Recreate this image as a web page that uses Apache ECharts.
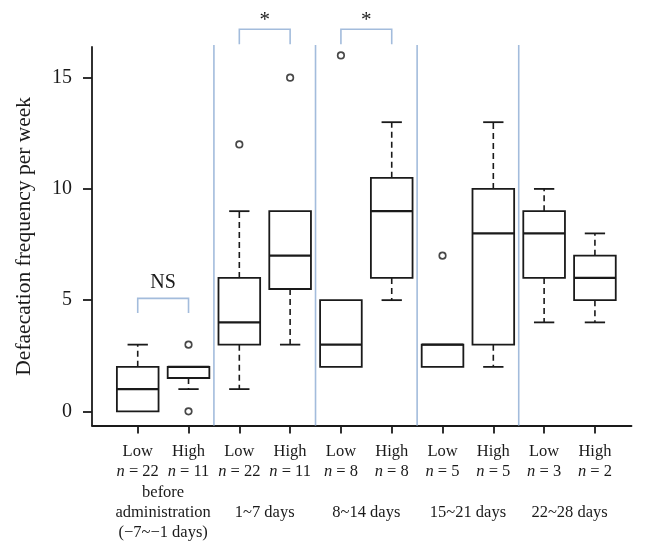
<!DOCTYPE html>
<html>
<head>
<meta charset="utf-8">
<script src="https://cdn.jsdelivr.net/npm/echarts@6/dist/echarts.min.js"></script>
<style>html,body{margin:0;padding:0;background:#fff}#c{width:646px;height:555px}</style>
</head>
<body>
<div id="c"></div>
<script>
// ---- data ----
const categories = ['Low', 'High', 'Low', 'High', 'Low', 'High', 'Low', 'High', 'Low', 'High'];
const sampleSizes = [22, 11, 22, 11, 8, 8, 5, 5, 3, 2];
const groupLabels = ['before\nadministration\n(\u22127~\u22121 days)', '1~7 days', '8~14 days', '15~21 days', '22~28 days'];
// [min whisker, Q1, median, Q3, max whisker]
const boxStats = [
  [0, 0, 1, 2, 3],
  [1, 1.5, 2, 2, 2],
  [1, 3, 4, 6, 9],
  [3, 5.5, 7, 9, 9],
  [2, 2, 3, 5, 5],
  [5, 6, 9, 10.5, 13],
  [2, 2, 3, 3, 3],
  [2, 3, 8, 10, 13],
  [4, 6, 8, 9, 10],
  [4, 5, 6, 7, 8]
];
// outliers: [category position (1-based), value]
const outliers = [[2, 0], [2, 3], [3, 12], [4, 15], [5, 16], [7, 7]];
const separators = [2.5, 4.5, 6.5, 8.5];
// significance brackets: [from, to, bottom, top, labelY, label]
const brackets = [
  [1, 2, 4.42, 5.08, 5.78, 'NS'],
  [3, 4, 16.5, 17.18, 17.55, '*'],
  [5, 6, 16.5, 17.18, 17.55, '*']
];
const yTicks = [0, 5, 10, 15];
const xTicks = [1, 2, 3, 4, 5, 6, 7, 8, 9, 10];
const groupTicks = [1.5, 3.5, 5.5, 7.5, 9.5];

const X_MIN = 0.1, X_MAX = 10.72, Y_MIN = -0.64, Y_MAX = 16.38;
const FONT = '"Liberation Serif", "DejaVu Serif", serif';
const INK = '#1a1a1a';
const BLUE = '#a3bcdc';

const chart = echarts.init(document.getElementById('c'), null, {renderer: 'canvas'});

const boxData = boxStats.map((s, i) => [i + 1].concat(s));

function renderBox(params, api) {
  const x = api.value(0);
  const mn = api.value(1), q1 = api.value(2), md = api.value(3), q3 = api.value(4), mx = api.value(5);
  const half = api.size([0.41, 0])[0];
  const cap = api.size([0.2, 0])[0];
  const c = api.coord([x, md]);
  const pQ1 = api.coord([x, q1]), pQ3 = api.coord([x, q3]);
  const pMin = api.coord([x, mn]), pMax = api.coord([x, mx]);
  const cx = c[0];
  const children = [];
  const lineStyle = {stroke: INK, lineWidth: 1.8, fill: null};
  const dashStyle = {stroke: INK, lineWidth: 1.6, lineDash: [6, 4], fill: null};
  if (mx > q3) {
    children.push({type: 'line', shape: {x1: cx, y1: pQ3[1], x2: cx, y2: pMax[1]}, style: dashStyle});
    children.push({type: 'line', shape: {x1: cx - cap, y1: pMax[1], x2: cx + cap, y2: pMax[1]}, style: lineStyle});
  }
  if (mn < q1) {
    children.push({type: 'line', shape: {x1: cx, y1: pQ1[1], x2: cx, y2: pMin[1]}, style: dashStyle});
    children.push({type: 'line', shape: {x1: cx - cap, y1: pMin[1], x2: cx + cap, y2: pMin[1]}, style: lineStyle});
  }
  children.push({type: 'rect', shape: {x: cx - half, y: pQ3[1], width: 2 * half, height: pQ1[1] - pQ3[1]},
    style: {stroke: INK, lineWidth: 1.8, fill: '#fff'}});
  children.push({type: 'line', shape: {x1: cx - half, y1: c[1], x2: cx + half, y2: c[1]},
    style: {stroke: INK, lineWidth: 2.2}});
  return {type: 'group', children: children};
}

function renderSeparator(params, api) {
  const x = api.value(0);
  const p1 = api.coord([x, Y_MIN]);
  const p2 = api.coord([x, Y_MAX]);
  return {type: 'line', shape: {x1: p1[0], y1: p1[1], x2: p2[0], y2: p2[1] - 2},
    style: {stroke: BLUE, lineWidth: 1.6}};
}

function renderBracket(params, api) {
  const b = brackets[params.dataIndex];
  const a = api.coord([b[0], b[2]]);
  const t = api.coord([b[0], b[3]]);
  const e = api.coord([b[1], b[2]]);
  const lab = api.coord([(b[0] + b[1]) / 2, b[4]]);
  return {type: 'group', children: [
    {type: 'polyline', shape: {points: [[a[0], a[1]], [a[0], t[1]], [e[0], t[1]], [e[0], a[1]]]},
      style: {stroke: BLUE, lineWidth: 1.6, fill: null}},
    {type: 'text', style: {text: b[5], x: lab[0], y: lab[1], align: 'center', verticalAlign: 'middle',
      font: (b[5] === '*' ? '21px ' : '20px ') + FONT, fill: INK}}
  ]};
}

const gridRect = {left: 92, right: 646 - 631.5, top: 47, bottom: 555 - 425.6};

const option = {
  backgroundColor: '#fff',
  animation: false,
  grid: [Object.assign({}, gridRect), Object.assign({}, gridRect)],
  xAxis: [{
    type: 'value', gridIndex: 0, min: X_MIN, max: X_MAX, position: 'bottom',
    splitLine: {show: false},
    axisLine: {show: true, onZero: false, lineStyle: {color: INK, width: 1.8}},
    axisTick: {show: true, customValues: xTicks, length: 8, lineStyle: {color: INK, width: 1.8}},
    axisLabel: {
      show: true, customValues: xTicks, margin: 16, color: INK, fontFamily: FONT, fontSize: 16.5, lineHeight: 20,
      formatter: function (v) { const i = Math.round(v) - 1; return categories[i] + '\n{i|n} = ' + sampleSizes[i]; },
      rich: {i: {fontStyle: 'italic', fontFamily: FONT, fontSize: 16.5, color: INK, lineHeight: 20}}
    }
  }, {
    type: 'value', gridIndex: 1, min: X_MIN, max: X_MAX, position: 'bottom',
    splitLine: {show: false}, axisLine: {show: false}, axisTick: {show: false},
    axisLabel: {
      show: true, customValues: groupTicks, margin: 86.7, verticalAlign: 'middle', align: 'center',
      color: INK, fontFamily: FONT, fontSize: 16.5, lineHeight: 20,
      formatter: function (v) { return groupLabels[Math.round((v - 1.5) / 2)]; }
    }
  }],
  yAxis: [{
    type: 'value', gridIndex: 0, min: Y_MIN, max: Y_MAX,
    name: 'Defaecation frequency per week', nameLocation: 'middle', nameGap: 57,
    nameTextStyle: {fontFamily: FONT, fontSize: 21.5, color: INK},
    splitLine: {show: false},
    axisLine: {show: true, onZero: false, lineStyle: {color: INK, width: 1.8}},
    axisTick: {show: true, customValues: yTicks, length: 9, lineStyle: {color: INK, width: 1.8}},
    axisLabel: {show: true, customValues: yTicks, margin: 20, color: INK, fontFamily: FONT, fontSize: 20}
  }, {
    type: 'value', gridIndex: 1, min: Y_MIN, max: Y_MAX, show: false
  }],
  series: [
    {type: 'custom', name: 'separators', xAxisIndex: 0, yAxisIndex: 0, clip: false, silent: true,
      data: separators.map(v => [v]), encode: {x: 0}, renderItem: renderSeparator, z: 1},
    {type: 'custom', name: 'boxes', xAxisIndex: 0, yAxisIndex: 0, clip: false, silent: true,
      data: boxData, encode: {x: 0, y: [1, 2, 3, 4, 5]}, renderItem: renderBox, z: 3},
    {type: 'scatter', name: 'outliers', xAxisIndex: 0, yAxisIndex: 0, silent: true,
      data: outliers, symbol: 'circle', symbolSize: 6.5,
      itemStyle: {color: '#fff', borderColor: INK, borderWidth: 1.7}, z: 4},
    {type: 'custom', name: 'brackets', xAxisIndex: 0, yAxisIndex: 0, clip: false, silent: true,
      data: brackets.map(b => [b[0], b[3]]), encode: {x: 0, y: 1}, renderItem: renderBracket, z: 5}
  ]
};
chart.setOption(option);
</script>
</body>
</html>
